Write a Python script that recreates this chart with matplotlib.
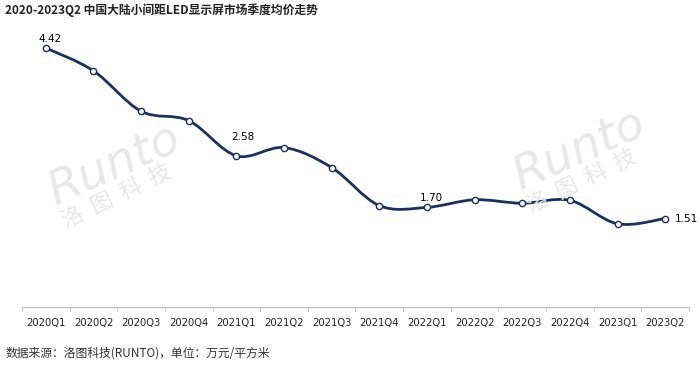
import numpy as np
import matplotlib
matplotlib.use("Agg")
import matplotlib.pyplot as plt
from matplotlib.path import Path
from matplotlib.patches import PathPatch

plt.rcParams['font.family'] = ['Noto Sans CJK SC', 'DejaVu Sans']

# quarterly average price, 10k CNY / m2
quarters = ['2020Q1', '2020Q2', '2020Q3', '2020Q4', '2021Q1', '2021Q2', '2021Q3',
            '2021Q4', '2022Q1', '2022Q2', '2022Q3', '2022Q4', '2023Q1', '2023Q2']
prices = [4.42, 4.03, 3.34, 3.18, 2.58, 2.72, 2.38,
          1.73, 1.70, 1.83, 1.77, 1.82, 1.42, 1.51]
labelled = {0: '4.42', 4: '2.58', 8: '1.70', 13: '1.51'}

title = '2020-2023Q2 中国大陆小间距LED显示屏市场季度均价走势'
source = '数据来源：洛图科技(RUNTO)，单位：万元/平方米'

navy = '#1a3160'

fig = plt.figure(figsize=(7, 3.81), dpi=100)
ax = fig.add_axes([22 / 700, 74 / 381, 667 / 700, 293 / 381])

x = np.arange(len(prices))
y = np.array(prices)

# smoothed line (bezier through the points, like excel's smooth line)
verts = [(x[0], y[0])]
codes = [Path.MOVETO]
n = len(x)
for i in range(n - 1):
    p0 = np.array([x[max(i - 1, 0)], y[max(i - 1, 0)]])
    p1 = np.array([x[i], y[i]])
    p2 = np.array([x[i + 1], y[i + 1]])
    p3 = np.array([x[min(i + 2, n - 1)], y[min(i + 2, n - 1)]])
    c1 = p1 + (p2 - p0) / 6
    c2 = p2 - (p3 - p1) / 6
    verts += [tuple(c1), tuple(c2), tuple(p2)]
    codes += [Path.CURVE4] * 3
ax.add_patch(PathPatch(Path(verts, codes), fill=False, edgecolor=navy, lw=2.0,
                       capstyle='round', joinstyle='round', zorder=3))

ax.plot(x, y, 'o', ms=4.5, mfc='white', mec=navy, mew=1.0, zorder=4)

for i, txt in labelled.items():
    if i == 13:
        ax.annotate(txt, (x[i], y[i]), xytext=(7, 0), textcoords='offset points',
                    ha='left', va='center', fontsize=7.5, family='DejaVu Sans')
    elif i == 4:
        ax.annotate(txt, (x[i], y[i]), xytext=(5, 10), textcoords='offset points',
                    ha='center', va='bottom', fontsize=7.5, family='DejaVu Sans')
    else:
        ax.annotate(txt, (x[i], y[i]), xytext=(3, 3), textcoords='offset points',
                    ha='center', va='bottom', fontsize=7.5, family='DejaVu Sans')

ax.set_xlim(-0.5, n - 0.5)
ax.set_ylim(0, 5)
ax.set_yticks([])
ax.set_xticks(np.arange(-0.5, n, 1))
ax.set_xticklabels([])
ax.set_xticks(x, minor=True)
ax.set_xticklabels(quarters, minor=True, fontsize=7.2, family='DejaVu Sans',
                   color='#222222')
ax.tick_params(axis='x', which='major', length=3, width=0.8, color='#bfbfbf')
ax.tick_params(axis='x', which='minor', length=0, pad=8)
for s in ['top', 'right', 'left']:
    ax.spines[s].set_visible(False)
ax.spines['bottom'].set_color('#bfbfbf')
ax.spines['bottom'].set_linewidth(0.9)

# watermarks
for dx, dy in [(0, 0), (465, -15)]:
    fig.text((115 + dx) / 700, 1 - (165 + dy) / 381, 'Runto', fontsize=34,
             family='DejaVu Sans', style='italic', fontweight='light',
             color='#e8e8e8', rotation=24, ha='center', va='center', zorder=0)
    fig.text((117 + dx) / 700, 1 - (196 + dy) / 381, '洛  图  科  技', fontsize=16,
             color='#e8e8e8', rotation=26, ha='center', va='center', zorder=0)

fig.text(5 / 700, 1 - 10 / 381, title, fontsize=8.5, fontweight='bold',
         ha='left', va='center', color='#222222')
fig.text(6 / 700, 1 - 353 / 381, source, fontsize=8.5, ha='left', va='center',
         color='#333333')

fig.savefig('out.png', dpi=100)
